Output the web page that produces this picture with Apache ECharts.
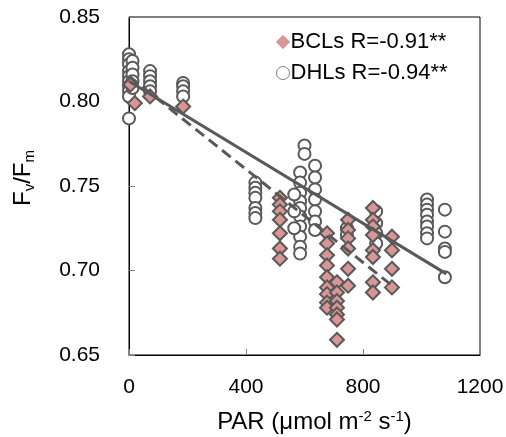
<!DOCTYPE html>
<html><head><meta charset="utf-8">
<script src="https://cdn.jsdelivr.net/npm/echarts@6/dist/echarts.min.js"></script>
<style>html,body{margin:0;padding:0;background:#fff}#c{width:506px;height:437px}</style>
</head><body><div id="c"></div>
<script>
// ---- data ----
const bclPAR  = [5, 20, 72, 185,
  516,516,516,516,516,516,516,
  677,677,677,677,677,677,677,677,677,
  711,711,711,711,711,711,711,
  749,749,749,749,749,749,
  834,834,834,834,834,834,834,834,
  899,899,899,899];
const bclFvFm = [0.810, 0.799, 0.803, 0.797,
  0.743,0.739,0.735,0.730,0.722,0.713,0.707,
  0.722,0.716,0.709,0.703,0.696,0.690,0.686,0.681,0.678,
  0.693,0.687,0.682,0.678,0.674,0.671,0.659,
  0.730,0.724,0.719,0.713,0.701,0.691,
  0.737,0.730,0.726,0.721,0.712,0.708,0.693,0.687,
  0.720,0.712,0.701,0.690];

const dhlPAR  = [0,0,0,0,0,0,0,0,0,0,
  12,12,12,12,12,
  72,72,72,72,72,
  185,185,185,185,
  432,432,432,432,432,432,432,
  600,600,
  585,585,585,585,585,585,585,585,585,585,
  565,565,565,
  636,636,636,636,636,636,636,
  745,745,
  845,845,845,845,
  1019,1019,1019,1019,1019,1019,1019,1019,
  1080,1080,1080,1080,1080];
const dhlFvFm = [0.828,0.825,0.822,0.818,0.815,0.812,0.809,0.806,0.803,0.790,
  0.824,0.820,0.816,0.812,0.808,
  0.818,0.815,0.812,0.809,0.806,
  0.811,0.809,0.806,0.803,
  0.752,0.749,0.746,0.743,0.737,0.734,0.731,
  0.774,0.769,
  0.758,0.752,0.746,0.741,0.737,0.732,0.726,0.720,0.714,0.710,
  0.745,0.735,0.725,
  0.762,0.755,0.748,0.742,0.735,0.729,0.724,
  0.725,0.721,
  0.735,0.728,0.722,0.716,
  0.742,0.739,0.736,0.733,0.729,0.726,0.722,0.719,
  0.736,0.723,0.713,0.711,0.696];

// regression lines (end points)
const bclTrendPAR  = [0, 900];
const bclTrendFvFm = [0.815, 0.691];
const dhlTrendPAR  = [0, 1085];
const dhlTrendFvFm = [0.812, 0.698];

const bclName = 'BCLs R=-0.91**';
const dhlName = 'DHLs R=-0.94**';
const xTicks = [0, 400, 800, 1200];
const yTicks = [0.65, 0.70, 0.75, 0.80, 0.85];

const zip = (a, b) => a.map((v, i) => [v, b[i]]);
const FONT = "'Liberation Sans', Arial, sans-serif";
const GRAY = '#595959';

const chart = echarts.init(document.getElementById('c'), null, {renderer: 'canvas'});
chart.setOption({
  animation: false,
  backgroundColor: '#fff',
  textStyle: {fontFamily: FONT},
  grid: {left: 129, right: 26, top: 17, bottom: 82, show: true, borderColor: '#000', borderWidth: 1,
         containLabel: false, outerBoundsMode: 'none'},
  legend: {
    orient: 'vertical', left: 271, top: 26, itemGap: 9,
    itemWidth: 13, itemHeight: 13,
    textStyle: {fontSize: 22, color: '#000', fontFamily: FONT, padding: [0, 0, 0, -4]},
    data: [
      {name: bclName, icon: 'diamond', itemStyle: {color: '#d99694', borderColor: '#c98a88', borderWidth: 1}},
      {name: dhlName, icon: 'circle', itemStyle: {color: '#fff', borderColor: '#808080', borderWidth: 1}}
    ]
  },
  xAxis: {
    type: 'value', min: xTicks[0], max: xTicks[xTicks.length - 1], interval: 400,
    axisLine: {lineStyle: {color: '#000', width: 1}},
    axisTick: {inside: true, length: 6, lineStyle: {color: '#808080'}},
    axisLabel: {margin: 22, fontSize: 21, color: '#000', fontFamily: FONT, formatter: v => String(v)},
    splitLine: {show: false},
    name: 'PAR (μmol m{sup|-2} s{sup|-1})',
    nameLocation: 'middle', nameGap: 54,
    nameTextStyle: {fontSize: 24, color: '#000', fontFamily: FONT, lineHeight: 27, padding: [0, 0, 0, 20],
      rich: {sup: {fontSize: 15, lineHeight: 15, verticalAlign: 'top', color: '#000', fontFamily: FONT}}}
  },
  yAxis: {
    type: 'value', min: yTicks[0], max: yTicks[yTicks.length - 1], interval: 0.05,
    axisLine: {show: true, lineStyle: {color: '#000', width: 1}},
    axisTick: {show: true, inside: true, length: 6, lineStyle: {color: '#808080'}},
    axisLabel: {margin: 29, fontSize: 21, color: '#000', fontFamily: FONT, formatter: v => v.toFixed(2)},
    splitLine: {show: false},
    name: 'F{sub|v}/F{sub|m}',
    nameLocation: 'middle', nameGap: 92, nameRotate: 90,
    nameTextStyle: {fontSize: 24, color: '#000', fontFamily: FONT, lineHeight: 28, padding: [0, 0, 0, 16],
      rich: {sub: {fontSize: 15, lineHeight: 15, verticalAlign: 'bottom', color: '#000', fontFamily: FONT}}}
  },
  series: [
    {name: dhlName, type: 'scatter', clip: false, symbol: 'circle', symbolSize: 12,
     itemStyle: {color: '#fff', borderColor: GRAY, borderWidth: 2, opacity: 1},
     data: zip(dhlPAR, dhlFvFm), z: 2},
    {name: bclName, type: 'scatter', clip: false, symbol: 'diamond', symbolSize: 14,
     itemStyle: {color: '#d99694', borderColor: GRAY, borderWidth: 2, opacity: 1},
     data: zip(bclPAR, bclFvFm), z: 3},
    {type: 'line', symbol: 'none', silent: true, z: 4,
     lineStyle: {color: GRAY, width: 3, type: [11, 6]},
     data: zip(bclTrendPAR, bclTrendFvFm)},
    {type: 'line', symbol: 'none', silent: true, z: 4,
     lineStyle: {color: GRAY, width: 3},
     data: zip(dhlTrendPAR, dhlTrendFvFm)}
  ]
});
</script>
</body></html>
